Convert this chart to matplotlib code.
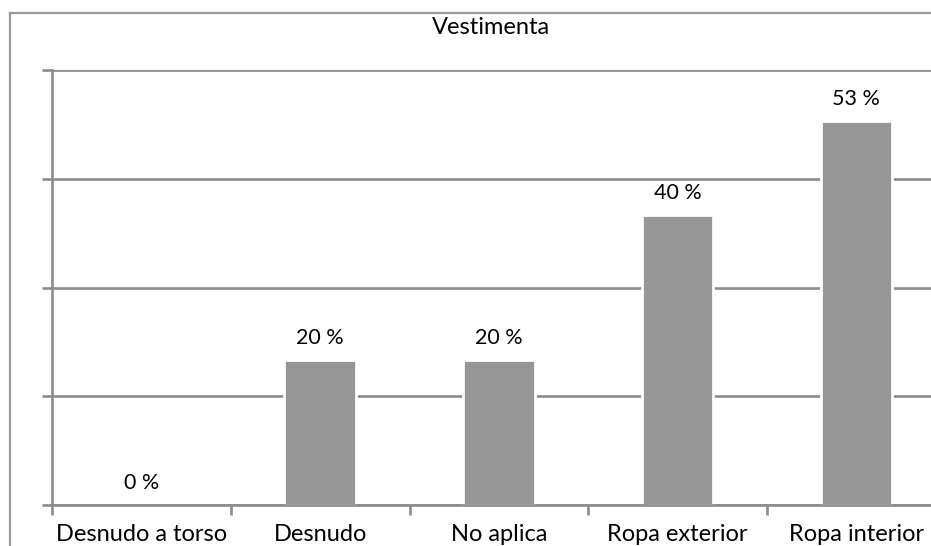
import matplotlib.pyplot as plt
from matplotlib.lines import Line2D

categories = ["Desnudo a torso", "Desnudo", "No aplica", "Ropa exterior", "Ropa interior"]
values = [0, 20, 20, 40, 53]
value_labels = ["0 %", "20 %", "20 %", "40 %", "53 %"]
title = "Vestimenta"

plt.rcParams['font.family'] = ['Lato', 'DejaVu Sans']

W, H = 931, 546
fig = plt.figure(figsize=(W / 100, H / 100), dpi=100)
fig.patch.set_facecolor("white")

# plot area in pixels: left 52, top 70, bottom 505, 5 slots of ~178.75 px
left, top, bottom, slot = 52, 70, 505, 178.75
ax = fig.add_axes([left / W, 1 - bottom / H, 5 * slot / W, (bottom - top) / H])

grid_col = "#8c8c8c"
x = list(range(len(categories)))
edge_w = [2 if v > 0 else 0 for v in values]
ax.bar(x, values, width=0.4, color="#969696", edgecolor="white", linewidth=edge_w, zorder=2)

for xi, v, lab in zip(x, values, value_labels):
    ax.annotate(lab, (xi, v), xytext=(0, 11.5), textcoords="offset points",
                ha="center", va="baseline", fontsize=15.5, color="black")

ax.set_xlim(-0.5, len(categories) - 0.5)
ax.set_ylim(0, 60)
ax.set_yticks([0, 15, 30, 45, 60])
ax.set_yticklabels([])
ax.yaxis.grid(True, color=grid_col, linewidth=1.9)
ax.set_axisbelow(True)

ax.set_xticks(x)
ax.set_xticklabels(categories, fontsize=17, color="black")
ax.set_xticks([i - 0.5 for i in range(len(categories) + 1)], minor=True)
ax.tick_params(axis="x", which="major", length=0, pad=14)
ax.tick_params(axis="x", which="minor", length=7, width=1.9, color=grid_col, direction="out")
ax.tick_params(axis="y", length=7, width=1.9, color=grid_col, direction="out")

for s in ["top", "right"]:
    ax.spines[s].set_visible(False)
for s in ["left", "bottom"]:
    ax.spines[s].set_color(grid_col)
    ax.spines[s].set_linewidth(1.9)

# outer chart frame
frame_col = "#999999"
fig.add_artist(Line2D([10 / W, 1.0], [1 - 13 / H, 1 - 13 / H], color=frame_col, linewidth=1.6))
fig.add_artist(Line2D([10 / W, 10 / W], [0, 1 - 13 / H], color=frame_col, linewidth=1.6))

fig.text(491 / W, 1 - 28 / H, title, ha="center", va="center", fontsize=17, color="black")

fig.savefig("out.png", dpi=100)
